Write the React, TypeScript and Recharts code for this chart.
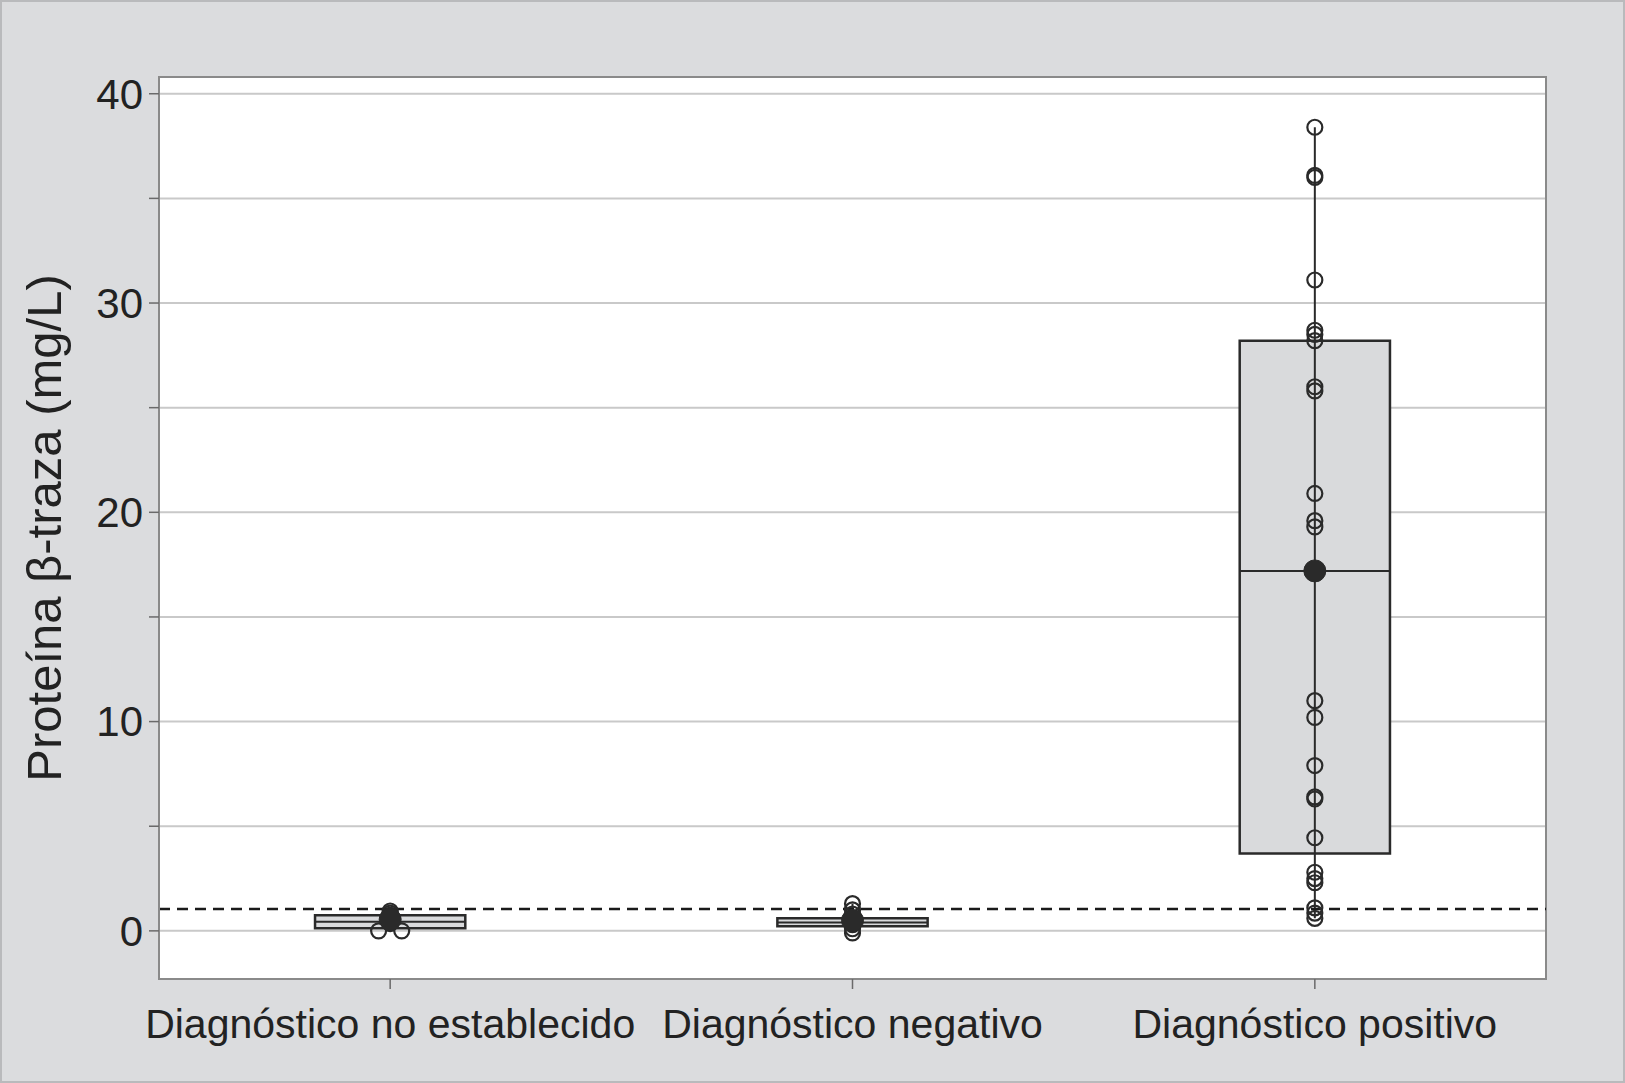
import React from "react";
import {
  ComposedChart,
  XAxis,
  YAxis,
  CartesianGrid,
  Scatter,
  ReferenceArea,
  ReferenceLine,
} from "recharts";

const categories = ["Diagnóstico no establecido", "Diagnóstico negativo", "Diagnóstico positivo"];

// box stats per category
const q1 = [0.13, 0.22, 3.7];
const medians = [0.43, 0.4, 17.2];
const q3 = [0.75, 0.6, 28.2];
const whiskerLow = [0.0, -0.1, 0.6];
const whiskerHigh = [0.95, 1.3, 38.4];
const means = [0.55, 0.5, 17.2];

// individual observations
const noEstablecido = [0.95, 0.85, 0.75, 0.65, 0.55, 0.45, 0.35, 0.0, 0.0];
const noEstablecidoJitter = [0, 0, 0, 0, 0, 0, 0, -0.025, 0.025];
const negativo = [1.3, 1.0, 0.8, 0.6, 0.5, 0.4, 0.3, 0.1, -0.1];
const positivo = [
  38.4, 36.1, 36.0, 31.1, 28.7, 28.5, 28.2, 26.0, 25.8, 20.9, 19.6, 19.3, 11.0, 10.2, 7.9,
  6.4, 6.3, 4.45, 2.8, 2.5, 2.3, 1.1, 0.85, 0.6,
];

const cutoff = 1.05;
const yTicks = [0, 5, 10, 15, 20, 25, 30, 35, 40];
const yDomain: [number, number] = [-2.3, 40.8];

const halfBox = 0.1625;
const center = (i: number) => i + 0.5;

const pointData = [
  ...noEstablecido.map((v, k) => ({ x: center(0) + noEstablecidoJitter[k], y: v })),
  ...negativo.map((v) => ({ x: center(1), y: v })),
  ...positivo.map((v) => ({ x: center(2), y: v })),
];
const meanData = means.map((v, i) => ({ x: center(i), y: v }));

const FONT = "'Liberation Sans', Arial, Helvetica, sans-serif";

const OpenCircle = (props: any) => (
  <circle cx={props.cx} cy={props.cy} r={7.5} fill="none" stroke="#2a2a2a" strokeWidth={2.2} />
);
const FilledCircle = (props: any) => (
  <circle cx={props.cx} cy={props.cy} r={11} fill="#2a2a2a" stroke="#2a2a2a" strokeWidth={1} />
);

export default function App() {
  return (
    <div
      style={{
        position: "absolute",
        top: 0,
        left: 0,
        width: 1625,
        height: 1083,
        background: "#dbdcde",
        border: "2px solid #b9babc",
        boxSizing: "border-box",
        fontFamily: FONT,
      }}
    >
      <div style={{ position: "absolute", top: -2, left: -2 }}>
        <ComposedChart width={1625} height={1083} margin={{ top: 77, right: 79, bottom: 44, left: 0 }}>
          <CartesianGrid vertical={false} stroke="#c9c9c9" strokeWidth={2} fill="#ffffff" />
          <XAxis
            type="number"
            dataKey="x"
            domain={[0, 3]}
            ticks={[0.5, 1.5, 2.5]}
            tickFormatter={(v: number) => categories[Math.floor(v)]}
            height={60}
            tickSize={10}
            tickMargin={20}
            axisLine={{ stroke: "#8a8a8a", strokeWidth: 2 }}
            tickLine={{ stroke: "#6a6a6a", strokeWidth: 1.5 }}
            tick={{ fill: "#222", fontSize: 41, fontFamily: FONT }}
            allowDataOverflow
          />
          <YAxis
            type="number"
            domain={yDomain}
            ticks={yTicks}
            tickFormatter={(v: number) => (v % 10 === 0 ? String(v) : "")}
            width={159}
            tickSize={10}
            tickMargin={6}
            axisLine={{ stroke: "#8a8a8a", strokeWidth: 2 }}
            tickLine={{ stroke: "#6a6a6a", strokeWidth: 1.5 }}
            tick={{ fill: "#222", fontSize: 42, fontFamily: FONT }}
            allowDataOverflow
            label={{
              value: "Proteína β-traza (mg/L)",
              angle: -90,
              position: "insideLeft",
              offset: 44,
              style: { textAnchor: "middle", fontSize: 49, fill: "#222", fontFamily: FONT },
            }}
          />
          <ReferenceArea
            x1={0}
            x2={3}
            y1={yDomain[0]}
            y2={yDomain[1]}
            fill="none"
            stroke="#8a8a8a"
            strokeWidth={2}
          />
          {categories.map((_, i) => (
            <ReferenceLine
              key={"w" + i}
              segment={[
                { x: center(i), y: whiskerLow[i] },
                { x: center(i), y: whiskerHigh[i] },
              ]}
              stroke="#2a2a2a"
              strokeWidth={2}
            />
          ))}
          {categories.map((_, i) => (
            <ReferenceArea
              key={"b" + i}
              x1={center(i) - halfBox}
              x2={center(i) + halfBox}
              y1={q1[i]}
              y2={q3[i]}
              fill="#d9dadc"
              fillOpacity={1}
              stroke="#2a2a2a"
              strokeWidth={2.5}
            />
          ))}
          {categories.map((_, i) => (
            <ReferenceLine
              key={"m" + i}
              segment={[
                { x: center(i) - halfBox, y: medians[i] },
                { x: center(i) + halfBox, y: medians[i] },
              ]}
              stroke="#2a2a2a"
              strokeWidth={2}
            />
          ))}
          <ReferenceLine y={cutoff} stroke="#1a1a1a" strokeWidth={2.5} strokeDasharray="11 7" />
          <Scatter data={pointData} dataKey="y" shape={OpenCircle} isAnimationActive={false} />
          <Scatter data={meanData} dataKey="y" shape={FilledCircle} isAnimationActive={false} />
        </ComposedChart>
      </div>
    </div>
  );
}
